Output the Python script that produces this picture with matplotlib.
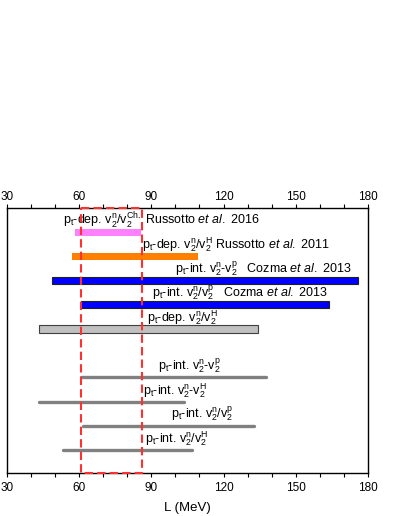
import numpy as np
import matplotlib.pyplot as plt
import matplotlib.transforms as mtransforms
from matplotlib.patches import Rectangle

plt.rcParams['font.family'] = ['Liberation Sans', 'DejaVu Sans']
plt.rcParams['mathtext.fontset'] = 'custom'
plt.rcParams['mathtext.rm'] = 'Liberation Sans'
plt.rcParams['mathtext.it'] = 'Liberation Sans:italic'
plt.rcParams['mathtext.bf'] = 'Liberation Sans:bold'

# L ranges (MeV) for each constraint, top to bottom
rows = [0, 1, 2, 3, 4, 6, 7, 8, 9]
L_low = [58.4, 57.0, 48.8, 60.9, 43.4, 60.9, 43.4, 61.4, 53.4]
L_high = [85.8, 109.3, 175.7, 163.8, 134.2, 137.6, 103.7, 132.6, 106.7]
labels = [
    r"p$_\mathrm{t}$-dep. v$_2^\mathrm{n}$/v$_2^\mathrm{Ch.}$ Russotto $\mathit{et\ al.}$ 2016",
    r"p$_\mathrm{t}$-dep. v$_2^\mathrm{n}$/v$_2^\mathrm{H}$ Russotto $\mathit{et\ al.}$ 2011",
    r"p$_\mathrm{t}$-int. v$_2^\mathrm{n}$-v$_2^\mathrm{p}$   Cozma $\mathit{et\ al.}$ 2013",
    r"p$_\mathrm{t}$-int. v$_2^\mathrm{n}$/v$_2^\mathrm{p}$   Cozma $\mathit{et\ al.}$ 2013",
    r"p$_\mathrm{t}$-dep. v$_2^\mathrm{n}$/v$_2^\mathrm{H}$",
    r"p$_\mathrm{t}$-int. v$_2^\mathrm{n}$-v$_2^\mathrm{p}$",
    r"p$_\mathrm{t}$-int. v$_2^\mathrm{n}$-v$_2^\mathrm{H}$",
    r"p$_\mathrm{t}$-int. v$_2^\mathrm{n}$/v$_2^\mathrm{p}$",
    r"p$_\mathrm{t}$-int. v$_2^\mathrm{n}$/v$_2^\mathrm{H}$",
]
label_x = [53.4, 86.2, 99.8, 90.1, 88.0, 92.6, 86.4, 98.1, 87.3]
colors = ['#ff80ff', '#ff8000', '#0000ff', '#0000ff', '#c0c0c0']
edges = ['none', 'none', '#202020', '#202020', '#404040']

# dashed box: constraint from this work
box_lo, box_hi = 60.7, 86.0

fig = plt.figure(figsize=(3.99, 5.16), dpi=100)
ax = fig.add_axes([0.0175, 0.0833, 0.9045, 0.5137])

# filled bars (first five), thick grey lines (rest)
for i in range(5):
    ax.barh(rows[i], L_high[i] - L_low[i], left=L_low[i], height=0.3,
            color=colors[i], edgecolor=edges[i], linewidth=0.8, zorder=2)
for i in range(5, 9):
    ax.plot([L_low[i], L_high[i]], [rows[i], rows[i]], color='#808080',
            lw=2.4, solid_capstyle='round', zorder=2)

for i in range(9):
    ax.text(label_x[i], rows[i] - 0.47, labels[i], fontsize=9,
            ha='left', va='center', zorder=3)

ax.set_xlim(30, 180)
ax.set_ylim(9.95, -1)
rect = Rectangle((box_lo, -1), box_hi - box_lo, 10.95, fill=False,
                 edgecolor='#ff3030', ls=(0, (4, 2)), lw=1.5, zorder=4,
                 clip_on=False)
ax.add_patch(rect)

ax.set_xticks(np.arange(30, 181, 30))
ax.set_xticks(np.arange(30, 181, 10), minor=True)
ax.tick_params(axis='x', which='both', direction='out', length=3, width=0.8,
               top=True, labeltop=True, labelsize=8.5, pad=3.5)
ax.set_yticks([])
for s in ax.spines.values():
    s.set_linewidth(1.0)
ax.set_xlabel('L (MeV)', fontsize=9.5, labelpad=6)

# top tick labels sit a little closer to the spine
shift = mtransforms.ScaledTranslation(0, -3 / 72, fig.dpi_scale_trans)
for t in ax.xaxis.get_major_ticks():
    t.label2.set_transform(t.label2.get_transform() + shift)

fig.savefig('out.png', dpi=100)
